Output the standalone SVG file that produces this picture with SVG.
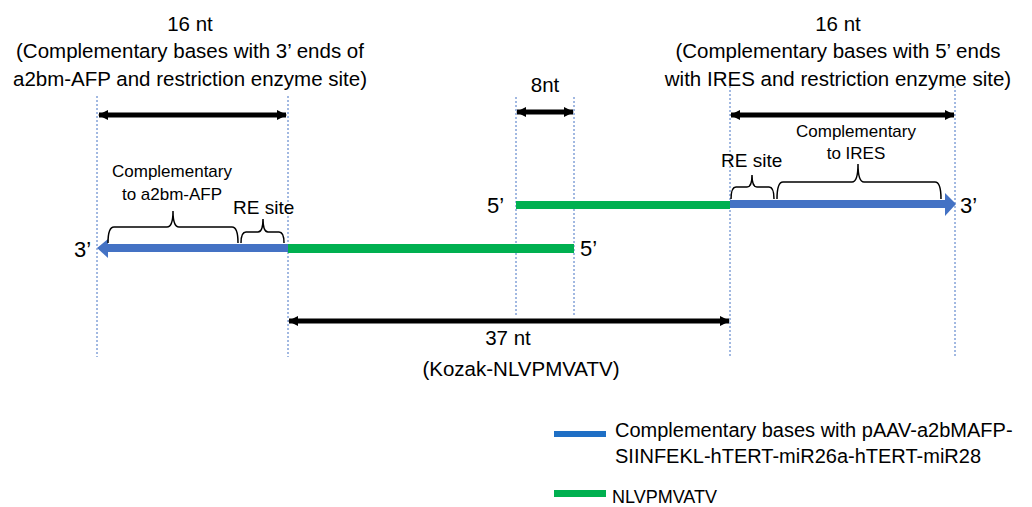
<svg xmlns="http://www.w3.org/2000/svg" width="1032" height="507" viewBox="0 0 1032 507">
<style>
text{font-family:"Liberation Sans",Arial,sans-serif;fill:#000}
.t{font-size:20.5px;text-anchor:middle}
.s{font-size:17px;text-anchor:middle}
.r{font-size:19px}
.p{font-size:22px}
.guide{stroke:#4472C4;stroke-width:1;stroke-dasharray:2,2;fill:none}
.dim{stroke:#000;stroke-width:5;fill:none}
.brace{stroke:#000;stroke-width:1.5;fill:none}
</style>
<defs>
<marker id="ah" viewBox="0 0 10 10" refX="9" refY="5" markerWidth="2" markerHeight="2.4" orient="auto-start-reverse" markerUnits="strokeWidth">
<path d="M0,0 L10,5 L0,10 z" fill="#000"/>
</marker>
</defs>
<rect width="1032" height="507" fill="#fff"/>
<g id="guides">
<line class="guide" x1="97" y1="96" x2="97" y2="357"/>
<line class="guide" x1="288" y1="96" x2="288" y2="357"/>
<line class="guide" x1="516" y1="97" x2="516" y2="316"/>
<line class="guide" x1="574" y1="97" x2="574" y2="316"/>
<line class="guide" x1="730" y1="86" x2="730" y2="357"/>
<line class="guide" x1="955" y1="86" x2="955" y2="357"/>
</g>
<g id="connectors">
<line class="dim" x1="99" y1="115" x2="286" y2="115" marker-start="url(#ah)" marker-end="url(#ah)"/>
<line class="dim" x1="517" y1="112" x2="573" y2="112" marker-start="url(#ah)" marker-end="url(#ah)"/>
<line class="dim" x1="731" y1="115" x2="954" y2="115" marker-start="url(#ah)" marker-end="url(#ah)"/>
<line class="dim" x1="289" y1="321" x2="729" y2="321" marker-start="url(#ah)" marker-end="url(#ah)"/>
</g>
<g id="strand-bottom">
<rect x="288" y="244" width="286" height="9" fill="#00B050"/>
<rect x="107" y="244" width="181" height="8" fill="#4472C4"/>
<path d="M97,248 L108,239 L108,258 z" fill="#4472C4"/>
<text class="p" x="74" y="257">3’</text>
<text class="p" x="580" y="256">5’</text>
</g>
<g id="strand-top">
<rect x="516" y="201" width="214" height="8" fill="#00B050"/>
<rect x="730" y="200" width="216" height="8" fill="#4472C4"/>
<path d="M956,204 L945,193 L945,216 z" fill="#4472C4"/>
<text class="p" x="487" y="213">5’</text>
<text class="p" x="960" y="213">3’</text>
</g>
<g id="brace-a2bm">
<path class="brace" d="M108,243 Q108,227 114,227 L167,227 Q173,227 173,211 Q173,227 179,227 L232,227 Q238,227 238,243"/>
<text class="s" x="172" y="177">Complementary</text>
<text class="s" x="172" y="200">to a2bm-AFP</text>
</g>
<g id="brace-re-left">
<path class="brace" d="M241,243 Q241,232 246,232 L258,232 Q263,232 263,219 Q263,232 268,232 L279,232 Q284,232 284,243"/>
<text class="r" x="233" y="214">RE site</text>
</g>
<g id="brace-re-right">
<path class="brace" d="M731,199 Q731,187 736,187 L747,187 Q752,187 752,175 Q752,187 757,187 L769,187 Q774,187 774,199"/>
<text class="r" x="721" y="167">RE site</text>
</g>
<g id="brace-ires">
<path class="brace" d="M777,199 Q777,182 783,182 L852,182 Q858,182 858,164 Q858,182 864,182 L935,182 Q941,182 941,199"/>
<text class="s" x="856" y="137">Complementary</text>
<text class="s" x="856" y="159">to IRES</text>
</g>
<g id="label-left">
<text class="t" x="190" y="31">16 nt</text>
<text class="t" x="190" y="58">(Complementary bases with 3’ ends of</text>
<text class="t" x="190" y="86">a2bm-AFP and restriction enzyme site)</text>
</g>
<g id="label-right">
<text class="t" x="838" y="31">16 nt</text>
<text class="t" x="838" y="58">(Complementary bases with 5’ ends</text>
<text class="t" x="838" y="86">with IRES and restriction enzyme site)</text>
</g>
<g id="label-8nt">
<text class="t" x="545" y="92">8nt</text>
</g>
<g id="label-37nt">
<text class="t" x="508" y="345">37 nt</text>
<text class="t" x="521" y="376" font-size="19px">(Kozak-NLVPMVATV)</text>
</g>
<g id="legend">
<rect x="554" y="431" width="52" height="6" fill="#1F6FC5"/>
<text x="615" y="437" font-size="20px">Complementary bases with pAAV-a2bMAFP-</text>
<text x="615" y="463" font-size="20px">SIINFEKL-hTERT-miR26a-hTERT-miR28</text>
<rect x="554" y="490" width="52" height="7" fill="#00B050"/>
<text x="612" y="503" font-size="18px">NLVPMVATV</text>
</g>
</svg>
